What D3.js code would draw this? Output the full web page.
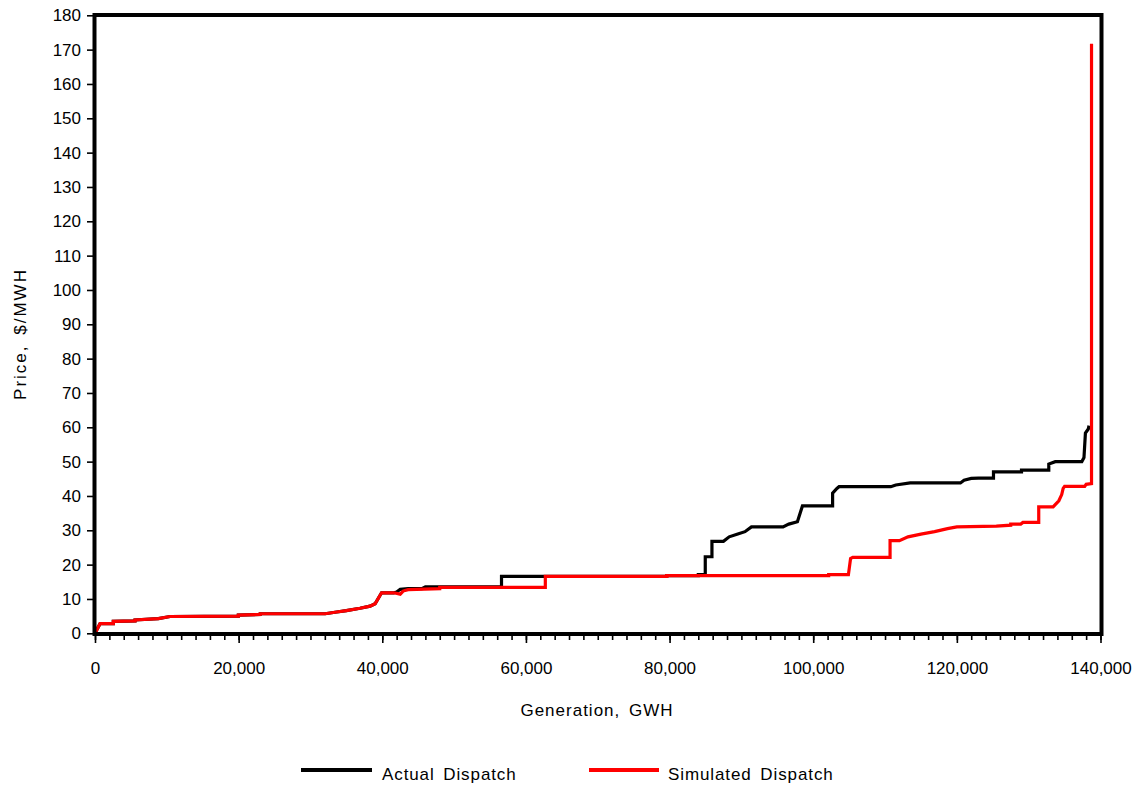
<!DOCTYPE html>
<html>
<head>
<meta charset="utf-8">
<script src="https://cdn.jsdelivr.net/npm/d3@7"></script>
<style>
  html, body { margin: 0; padding: 0; background: #fff; }
  svg { display: block; }
  text { font-family: "Liberation Sans", Arial, Helvetica, sans-serif; fill: #000; }
</style>
</head>
<body>
<svg id="chart" width="1134" height="785"></svg>
<script>
// ---- data (Generation GWH, Price $/MWH) ----
const actualX = [0, 700, 2550, 2550, 5570, 5570, 8820, 10450, 19960, 19960, 22990, 23000, 32040, 33660, 35000, 36900, 38300, 39000, 39900, 41600, 42000, 42500, 43600, 45500, 46000, 48000, 56600, 56600, 62700, 79600, 79600, 84000, 84000, 84970, 84970, 85900, 85900, 87500, 88300, 89500, 90500, 91400, 95800, 96600, 97800, 98500, 102700, 102700, 103300, 103600, 110800, 111500, 113500, 120500, 121000, 122000, 123000, 125100, 125100, 129000, 129000, 132800, 132800, 133700, 137400, 137700, 137900, 138300, 138400];
const actualY = [0, 2.8, 2.8, 3.5, 3.6, 3.9, 4.3, 4.9, 5.0, 5.3, 5.5, 5.7, 5.7, 6.2, 6.6, 7.3, 7.9, 8.6, 11.8, 11.8, 12.0, 12.8, 13.0, 13.0, 13.5, 13.5, 13.5, 16.6, 16.6, 16.6, 16.8, 16.8, 17.1, 17.1, 22.3, 22.3, 26.8, 26.8, 28.1, 28.9, 29.6, 31.0, 31.0, 31.8, 32.5, 37.1, 37.1, 40.8, 42.2, 42.7, 42.7, 43.2, 43.8, 43.8, 44.6, 45.1, 45.2, 45.2, 47.0, 47.0, 47.5, 47.5, 49.3, 50.0, 50.0, 51.2, 58.3, 59.5, 60.5];

const simX = [0, 700, 2550, 2550, 5570, 5570, 8820, 10450, 19960, 19960, 22990, 23000, 32040, 33660, 35000, 36900, 38300, 39000, 39900, 41600, 42500, 42900, 43600, 48000, 48000, 62700, 62700, 79600, 79600, 102150, 102150, 104900, 105200, 105500, 110700, 110700, 112000, 113200, 115000, 116900, 118700, 120000, 125500, 127500, 127500, 128900, 129200, 131400, 131400, 133400, 134200, 134600, 134800, 135000, 137800, 138000, 138750, 138750];
const simY = [0, 2.8, 2.8, 3.5, 3.6, 3.9, 4.3, 4.9, 5.0, 5.3, 5.5, 5.7, 5.7, 6.2, 6.6, 7.3, 7.9, 8.6, 11.8, 11.8, 11.4, 12.3, 12.7, 13.0, 13.4, 13.4, 16.6, 16.6, 16.8, 16.8, 17.1, 17.1, 21.8, 22.1, 22.1, 27.0, 27.0, 28.1, 28.9, 29.6, 30.5, 31.0, 31.2, 31.5, 31.8, 31.8, 32.3, 32.3, 36.8, 36.8, 38.6, 40.4, 42.2, 42.8, 42.8, 43.4, 43.6, 171.7];

const yTicks = [0, 10, 20, 30, 40, 50, 60, 70, 80, 90, 100, 110, 120, 130, 140, 150, 160, 170, 180];
const xTicks = [0, 20000, 40000, 60000, 80000, 100000, 120000, 140000];
const seriesNames = ["Actual Dispatch", "Simulated Dispatch"];
const seriesColors = ["#000000", "#ff0000"];

// ---- chart ----
const svg = d3.select("#chart");
const x = d3.scaleLinear().domain([0, 140000]).range([95, 1100.5]);
const y = d3.scaleLinear().domain([0, 180]).range([633.3, 15.3]);

const fmt = d3.format(",");

// Y axis
const yAxis = svg.append("g")
  .attr("transform", "translate(93,0)")
  .call(d3.axisLeft(y).tickValues(yTicks).tickSize(6).tickPadding(6).tickFormat(d3.format("d")));
yAxis.select(".domain").remove();
yAxis.selectAll("line").attr("stroke", "#000").attr("stroke-width", 1.6);
yAxis.selectAll("text").attr("font-size", 17).attr("font-family", "Liberation Sans, Arial, sans-serif").attr("fill", "#000");

// X axis minor ticks
const xMinor = svg.append("g")
  .attr("transform", "translate(0,636)")
  .call(d3.axisBottom(x).tickValues(d3.range(0, 140001, 2000)).tickSize(4).tickFormat(""));
xMinor.select(".domain").remove();
xMinor.selectAll("line").attr("stroke", "#000").attr("stroke-width", 1.6);

// X axis major ticks
const xAxis = svg.append("g")
  .attr("transform", "translate(0,636)")
  .call(d3.axisBottom(x).tickValues(xTicks).tickSize(7).tickPadding(19).tickFormat(fmt));
xAxis.select(".domain").remove();
xAxis.selectAll("line").attr("stroke", "#000").attr("stroke-width", 1.6);
xAxis.selectAll("text").attr("font-size", 17).attr("font-family", "Liberation Sans, Arial, sans-serif").attr("fill", "#000");

// Lines
const line = d3.line().x(d => x(d[0])).y(d => y(d[1]));
const actual = actualX.map((v, i) => [v, actualY[i]]);
const sim = simX.map((v, i) => [v, simY[i]]);

svg.append("path").datum(actual)
  .attr("d", line).attr("fill", "none")
  .attr("stroke", seriesColors[0]).attr("stroke-width", 3.2)
  .attr("stroke-linejoin", "miter");
svg.append("path").datum(sim)
  .attr("d", line).attr("fill", "none")
  .attr("stroke", seriesColors[1]).attr("stroke-width", 3.2)
  .attr("stroke-linejoin", "miter");

// Frame
svg.append("rect")
  .attr("x", 94.5).attr("y", 15)
  .attr("width", 1007).attr("height", 619)
  .attr("fill", "none").attr("stroke", "#000").attr("stroke-width", 4);

// Axis titles
svg.append("text")
  .attr("x", 597).attr("y", 716)
  .attr("text-anchor", "middle")
  .attr("font-size", 17)
  .style("letter-spacing", "1px").style("word-spacing", "3px")
  .text("Generation, GWH");

svg.append("text")
  .attr("transform", "translate(26,334) rotate(-90)")
  .attr("text-anchor", "middle")
  .attr("font-size", 17)
  .style("letter-spacing", "2px").style("word-spacing", "3px")
  .text("Price, $/MWH");

// Legend
const legendItems = [
  { name: seriesNames[0], color: seriesColors[0], x1: 301, x2: 372, tx: 382 },
  { name: seriesNames[1], color: seriesColors[1], x1: 589, x2: 659, tx: 668 }
];
legendItems.forEach(it => {
  svg.append("line")
    .attr("x1", it.x1).attr("x2", it.x2)
    .attr("y1", 770).attr("y2", 770)
    .attr("stroke", it.color).attr("stroke-width", 4);
  svg.append("text")
    .attr("x", it.tx).attr("y", 780)
    .attr("font-size", 17)
    .style("letter-spacing", "0.9px").style("word-spacing", "3px")
    .text(it.name);
});
</script>
</body>
</html>
